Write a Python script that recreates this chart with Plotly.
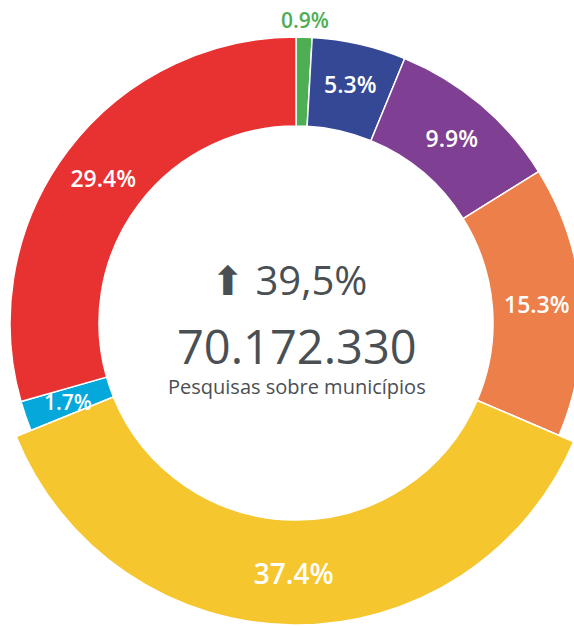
import math
import plotly.graph_objects as go

# ---- data ----
categories = ["Categoria 1", "Categoria 2", "Categoria 3", "Categoria 4",
              "Categoria 5", "Categoria 6", "Categoria 7"]
shares = [0.9, 5.3, 9.9, 15.3, 37.4, 1.7, 29.4]
colors = ["#4DAE53", "#344895", "#7F3F92", "#EC7F4A", "#F5C62D", "#05A8DA", "#E83232"]
highlight = "Categoria 5"
change_text = "⬆ 39,5%"
total_text = "70.172.330"
subtitle = "Pesquisas sobre municípios"

# ---- geometry (figure pixels) ----
OFF = 20            # figure is shifted up/left by this many px on the page
W, H = 640, 690
cx, cy = 296 + OFF, 323 + OFF
r_out, r_big, r_in = 286, 302, 197


def dom(r):
    return dict(x=[(cx - r) / W, (cx + r) / W],
                y=[1 - (cy + r) / H, 1 - (cy - r) / H])


def px(x, y):
    return x / W, 1 - y / H


hi = categories.index(highlight)
font = "Open Sans SemiBold, Open Sans"
total = sum(shares)

pos1, tmpl1, ann = [], [], []
cum = 0.0
for i, c in enumerate(categories):
    mid = (cum + shares[i] / 2) / total * 2 * math.pi
    cum += shares[i]
    if i == hi:
        pos1.append("none"); tmpl1.append("")
    elif shares[i] < 2:
        # thin slices: label placed on the slice's mid-angle
        pos1.append("none"); tmpl1.append("")
        if shares[i] < 1:
            rr, col = r_out + 17, colors[i]          # outside
        else:
            rr, col = (r_in + r_out) / 2, "white"    # centre of the ring
        ax, ay = px(cx + math.sin(mid) * rr, cy - math.cos(mid) * rr)
        ann.append(dict(text=f"{shares[i]:.1f}%", x=ax, y=ay, xref="paper", yref="paper",
                        xanchor="center", yanchor="middle", showarrow=False,
                        font=dict(family=font, size=21, color=col, weight=600)))
    else:
        pos1.append("inside"); tmpl1.append("%{value:.1f}%")

fig = go.Figure()
fig.add_trace(go.Pie(
    labels=categories, values=shares, sort=False, direction="clockwise", rotation=0,
    hole=r_in / r_out, domain=dom(r_out),
    marker=dict(colors=colors, line=dict(color="white", width=1.5)),
    texttemplate=tmpl1, textposition=pos1, insidetextorientation="horizontal",
    insidetextfont=dict(family=font, size=23, color="white", weight=600),
    hoverinfo="skip", showlegend=False,
))

# enlarged highlighted slice
cols2 = [colors[i] if i == hi else "rgba(0,0,0,0)" for i in range(len(categories))]
lw2 = [1.5 if i == hi else 0 for i in range(len(categories))]
pos2 = ["inside" if i == hi else "none" for i in range(len(categories))]
tmpl2 = ["%{value:.1f}%" if i == hi else "" for i in range(len(categories))]
fig.add_trace(go.Pie(
    labels=categories, values=shares, sort=False, direction="clockwise", rotation=0,
    hole=r_in / r_big, domain=dom(r_big),
    marker=dict(colors=cols2, line=dict(color="white", width=lw2)),
    texttemplate=tmpl2, textposition=pos2, insidetextorientation="horizontal",
    insidetextfont=dict(family=font, size=29, color="white", weight=600),
    hoverinfo="skip", showlegend=False,
))

for txt, (x, y), size in [(change_text, (289, 279), 40),
                          (total_text, (297, 346), 47),
                          (subtitle, (297, 386), 20)]:
    ax, ay = px(x + OFF, y + OFF)
    ann.append(dict(text=txt, x=ax, y=ay, xref="paper", yref="paper",
                    xanchor="center", yanchor="middle", showarrow=False,
                    font=dict(family="Open Sans", size=size, color="#4A4F53")))

fig.update_layout(width=W, height=H, margin=dict(l=0, r=0, t=0, b=0),
                  paper_bgcolor="white", plot_bgcolor="white",
                  annotations=ann, font=dict(family="Open Sans"),
                  uniformtext=dict(minsize=20, mode="show"))

post = ("document.documentElement.style.overflow='hidden';"
        "document.body.style.overflow='hidden';document.body.style.margin='0';"
        "var d=document.getElementById('{plot_id}');d.style.position='absolute';"
        "d.style.left='-%dpx';d.style.top='-%dpx';" % (OFF, OFF))
fig.write_html("out.html", post_script=post)
